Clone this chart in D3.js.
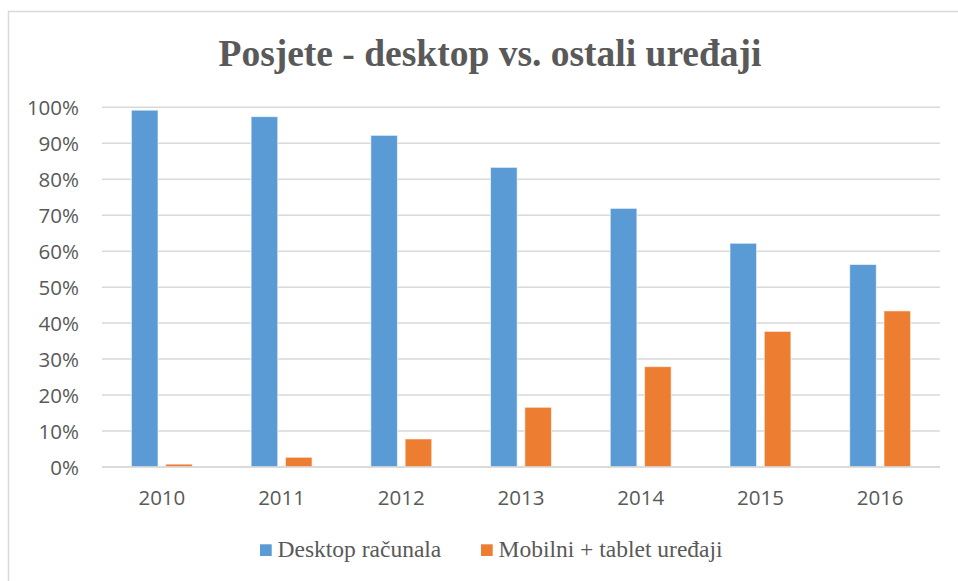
<!DOCTYPE html>
<html>
<head>
<meta charset="utf-8">
<script src="https://cdn.jsdelivr.net/npm/d3@7"></script>
<style>
  html, body { margin: 0; padding: 0; background: #fff; }
  svg { display: block; }
</style>
</head>
<body>
<script>
const categories = ["2010", "2011", "2012", "2013", "2014", "2015", "2016"];
const seriesNames = ["Desktop računala", "Mobilni + tablet uređaji"];
const desktopValues = [99.2, 97.4, 92.2, 83.3, 71.9, 62.2, 56.3];
const mobileValues = [0.8, 2.7, 7.8, 16.6, 27.9, 37.7, 43.4];
const yTicks = [0, 10, 20, 30, 40, 50, 60, 70, 80, 90, 100];
const colors = ["#5b9bd5", "#ed7d31"];
const titleText = "Posjete - desktop vs. ostali uređaji";

const W = 958, H = 581;
const svg = d3.select("body").append("svg").attr("width", W).attr("height", H);

// outer frame (extends beyond right/bottom edges)
svg.append("rect").attr("x", 8.5).attr("y", 11.5).attr("width", 1000).attr("height", 1000)
  .attr("fill", "#fff").attr("stroke", "#d9d9d9").attr("stroke-width", 1.5);

const plot = { left: 102, right: 940, top: 107.3, bottom: 467 };

const x0 = d3.scaleBand().domain(categories).range([plot.left, plot.right]).padding(0);
const x1 = d3.scaleBand().domain(seriesNames).range([0, x0.bandwidth()])
  .paddingInner(0.224).paddingOuter(0.857);
const y = d3.scaleLinear().domain([0, 100]).range([plot.bottom, plot.top]);

// gridlines
svg.append("g").selectAll("line").data(yTicks).join("line")
  .attr("x1", plot.left).attr("x2", plot.right)
  .attr("y1", d => y(d)).attr("y2", d => y(d))
  .attr("stroke", "#d9d9d9").attr("stroke-width", 1.5);

// y axis labels
const yAxis = d3.axisLeft(y).tickValues(yTicks).tickFormat(d => d + "%").tickSize(0).tickPadding(0);
const gy = svg.append("g").attr("transform", "translate(79,0)").call(yAxis);
gy.select(".domain").remove();
gy.selectAll("text").attr("fill", "#595959").attr("font-family", "'Open Sans', sans-serif")
  .attr("font-size", "20.5px").attr("dy", "0.36em");

// bars
const data = categories.map((c, i) => ({ cat: c, vals: [desktopValues[i], mobileValues[i]] }));
const groups = svg.append("g").selectAll("g").data(data).join("g")
  .attr("transform", d => `translate(${x0(d.cat)},0)`);
groups.selectAll("rect").data(d => d.vals.map((v, j) => ({ v, s: seriesNames[j], j })))
  .join("rect")
  .attr("x", d => x1(d.s)).attr("width", x1.bandwidth())
  .attr("y", d => y(d.v)).attr("height", d => y(0) - y(d.v))
  .attr("fill", d => colors[d.j])
  .attr("stroke", "#ffffff").attr("stroke-opacity", 0.6).attr("stroke-width", 1);

// baseline
svg.append("line").attr("x1", plot.left).attr("x2", plot.right)
  .attr("y1", y(0)).attr("y2", y(0)).attr("stroke", "#d9d9d9").attr("stroke-width", 1.5);

// x axis labels
const xAxis = d3.axisBottom(x0).tickSize(0).tickPadding(0);
const gx = svg.append("g").attr("transform", `translate(0,${505})`).call(xAxis);
gx.select(".domain").remove();
gx.selectAll("text").attr("fill", "#595959").attr("font-family", "'Open Sans', sans-serif")
  .attr("font-size", "20.5px").attr("dy", 0);

// title
svg.append("text").attr("x", 490).attr("y", 66).attr("text-anchor", "middle")
  .attr("font-family", "'Liberation Serif', 'Times New Roman', serif")
  .attr("font-weight", "bold").attr("font-size", "37.5px").attr("fill", "#595959")
  .text(titleText);

// legend
const legendX = [260, 481];
const leg = svg.append("g").selectAll("g").data(seriesNames).join("g")
  .attr("transform", (d, i) => `translate(${legendX[i]},0)`);
leg.append("rect").attr("x", 0).attr("y", 544.3).attr("width", 11.7).attr("height", 11.7)
  .attr("fill", (d, i) => colors[i]);
leg.append("text").attr("x", 17.5).attr("y", 556.7)
  .attr("font-family", "'Liberation Serif', 'Times New Roman', serif")
  .attr("font-size", "23.5px").attr("fill", "#595959").text(d => d);
</script>
</body>
</html>
